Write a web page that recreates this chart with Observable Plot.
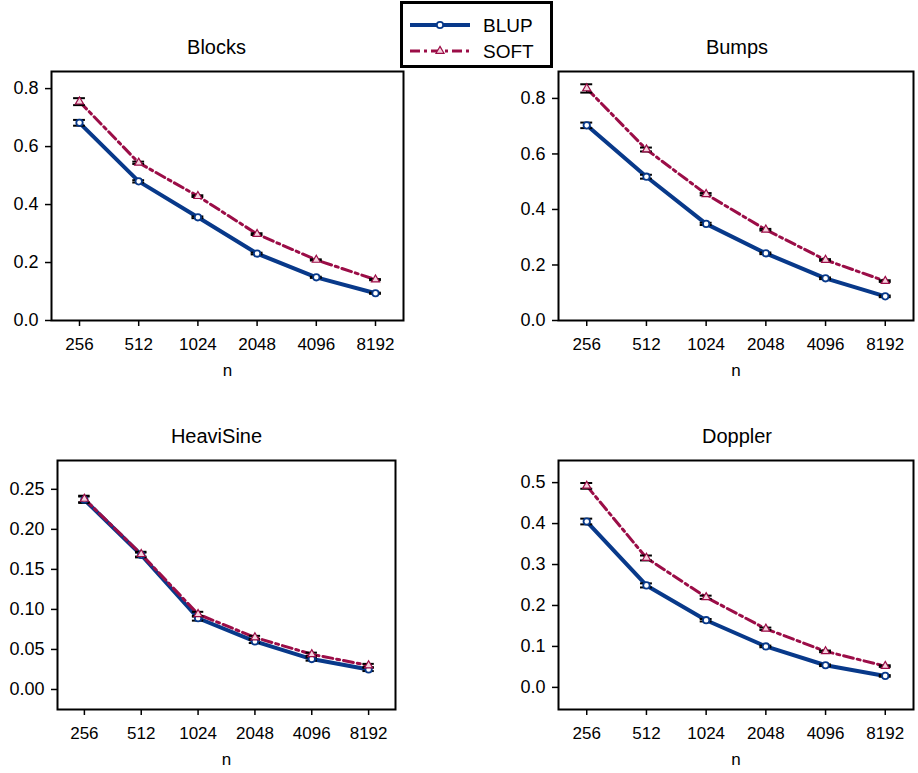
<!DOCTYPE html>
<html><head><meta charset="utf-8">
<script src="https://cdn.jsdelivr.net/npm/d3@7"></script>
<script src="https://cdn.jsdelivr.net/npm/@observablehq/plot@0.6"></script>
<style>
body{margin:0;background:#fff;}
#wrap{position:relative;width:918px;height:773px;background:#fff;font-family:"Liberation Sans",Arial,sans-serif;overflow:hidden;}
#wrap > svg{position:absolute;}
#legend{position:absolute;left:400px;top:1px;width:147px;height:61px;border:3px solid #000;background:#fff;}
</style></head><body><div id="wrap"></div>
<script>
// ---- data ----
const nLabels = ["256", "512", "1024", "2048", "4096", "8192"];
const series = ["BLUP", "SOFT"];

const blocksBLUP = [0.682, 0.480, 0.356, 0.231, 0.149, 0.094];
const blocksSOFT = [0.755, 0.544, 0.429, 0.298, 0.209, 0.141];
const blocksBLUPErr = [0.010, 0.004, 0.003, 0.003, 0.002, 0.002];
const blocksSOFTErr = [0.012, 0.004, 0.003, 0.003, 0.002, 0.002];

const bumpsBLUP = [0.703, 0.518, 0.348, 0.242, 0.152, 0.087];
const bumpsSOFT = [0.836, 0.616, 0.455, 0.327, 0.218, 0.142];
const bumpsBLUPErr = [0.010, 0.007, 0.004, 0.003, 0.003, 0.003];
const bumpsSOFTErr = [0.015, 0.007, 0.004, 0.003, 0.003, 0.003];

const heaviBLUP = [0.237, 0.168, 0.089, 0.060, 0.038, 0.025];
const heaviSOFT = [0.238, 0.169, 0.094, 0.065, 0.044, 0.030];
const heaviBLUPErr = [0.004, 0.003, 0.003, 0.002, 0.002, 0.002];
const heaviSOFTErr = [0.004, 0.003, 0.003, 0.002, 0.002, 0.002];

const dopplerBLUP = [0.405, 0.249, 0.164, 0.100, 0.054, 0.028];
const dopplerSOFT = [0.492, 0.316, 0.220, 0.143, 0.088, 0.052];
const dopplerBLUPErr = [0.007, 0.005, 0.003, 0.002, 0.002, 0.002];
const dopplerSOFTErr = [0.007, 0.006, 0.004, 0.003, 0.002, 0.002];

const blocksTicks = [0, 0.2, 0.4, 0.6, 0.8];
const bumpsTicks = [0, 0.2, 0.4, 0.6, 0.8];
const heaviTicks = [0, 0.05, 0.10, 0.15, 0.20, 0.25];
const dopplerTicks = [0, 0.1, 0.2, 0.3, 0.4, 0.5];

// ---- style ----
const BLUE = "#08398a";
const RED = "#9b0d47";
const FONT = "'Liberation Sans', Arial, Helvetica, sans-serif";
const DASH = "10,4,3,4";

const panels = [
  {title: "Blocks", blup: blocksBLUP, soft: blocksSOFT, be: blocksBLUPErr, se: blocksSOFTErr, ticks: blocksTicks, dec: 1,
   yDomain: [0, 0.859], svg: [0, 0, 459, 386], frame: [51, 71, 403, 320], tdx: -11},
  {title: "Bumps", blup: bumpsBLUP, soft: bumpsSOFT, be: bumpsBLUPErr, se: bumpsSOFTErr, ticks: bumpsTicks, dec: 1,
   yDomain: [0, 0.897], svg: [459, 0, 459, 386], frame: [558, 71, 913, 320], tdx: 1},
  {title: "HeaviSine", blup: heaviBLUP, soft: heaviSOFT, be: heaviBLUPErr, se: heaviSOFTErr, ticks: heaviTicks, dec: 2,
   yDomain: [-0.025, 0.286], svg: [0, 386, 459, 387], frame: [57, 460, 395, 709], tdx: -10},
  {title: "Doppler", blup: dopplerBLUP, soft: dopplerSOFT, be: dopplerBLUPErr, se: dopplerSOFTErr, ticks: dopplerTicks, dec: 1,
   yDomain: [-0.054, 0.554], svg: [459, 386, 459, 387], frame: [558, 460, 913, 709], tdx: 1}
];

const wrap = document.getElementById("wrap");

for (const p of panels) {
  const [sx, sy, sw, sh] = p.svg;
  const [fl, ft, fr, fb] = p.frame;
  const blup = nLabels.map((n, i) => ({i, v: p.blup[i], e: p.be[i]}));
  const soft = nLabels.map((n, i) => ({i, v: p.soft[i], e: p.se[i]}));
  const both = blup.concat(soft);
  const chart = Plot.plot({
    width: sw, height: sh,
    marginLeft: fl - sx, marginTop: ft - sy, marginRight: sx + sw - fr, marginBottom: sy + sh - fb,
    style: {fontFamily: FONT, fontSize: "16px", fontWeight: "normal", background: "transparent", color: "#000", overflow: "visible"},
    x: {type: "linear", domain: [-0.473, 5.473]},
    y: {domain: p.yDomain},
    marks: [
      Plot.axisY(p.ticks, {tickFormat: d => d.toFixed(p.dec), tickSize: 6, tickPadding: 7, fontSize: 18, strokeWidth: 1.5, label: null}),
      Plot.axisX(d3.range(nLabels.length), {tickFormat: i => nLabels[i], tickSize: 6, tickPadding: 11, fontSize: 17, strokeWidth: 1.5, label: null}),
      Plot.line(blup, {x: "i", y: "v", stroke: BLUE, strokeWidth: 4}),
      Plot.line(soft, {x: "i", y: "v", stroke: RED, strokeWidth: 3, strokeDasharray: DASH}),
      Plot.ruleX(both, {x: "i", y1: d => d.v - d.e, y2: d => d.v + d.e, stroke: "#000", strokeWidth: 1.5}),
      Plot.ruleY(both, {y: d => d.v + d.e, x1: d => d.i - 0.1, x2: d => d.i + 0.1, stroke: "#000", strokeWidth: 2}),
      Plot.ruleY(both, {y: d => d.v - d.e, x1: d => d.i - 0.1, x2: d => d.i + 0.1, stroke: "#000", strokeWidth: 2}),
      Plot.dot(blup, {x: "i", y: "v", r: 3.2, fill: "#fff", stroke: BLUE, strokeWidth: 1.8}),
      Plot.dot(soft, {x: "i", y: "v", r: 3, symbol: "triangle", fill: "#f4d3de", stroke: RED, strokeWidth: 1.2}),
      Plot.frame({stroke: "#000", strokeWidth: 2}),
      Plot.text([p.title], {frameAnchor: "top", lineAnchor: "middle", dy: -24, dx: p.tdx, fontSize: 20, fontWeight: "normal", fill: "#000"}),
      Plot.text(["n"], {frameAnchor: "bottom", lineAnchor: "middle", dy: 50, fontSize: 17, fill: "#000"})
    ]
  });
  chart.style.left = sx + "px";
  chart.style.top = sy + "px";
  wrap.appendChild(chart);
}

// ---- legend ----
const legend = document.createElement("div");
legend.id = "legend";
legend.innerHTML = `
<svg width="147" height="61" style="position:absolute;left:0;top:0;font-family:${FONT}">
  <line x1="7" x2="67" y1="21" y2="21" stroke="${BLUE}" stroke-width="4"/>
  <circle cx="37" cy="21" r="3.2" fill="#fff" stroke="${BLUE}" stroke-width="1.8"/>
  <line x1="7" x2="67" y1="47" y2="47" stroke="${RED}" stroke-width="3" stroke-dasharray="${DASH}"/>
  <path transform="translate(37,47)" d="${d3.symbol(d3.symbolTriangle, 28)()}" fill="#f4d3de" stroke="${RED}" stroke-width="1.2"/>
  <text x="80" y="21" dy="0.35em" font-size="19" fill="#000">${series[0]}</text>
  <text x="80" y="47" dy="0.35em" font-size="19" fill="#000">${series[1]}</text>
</svg>`;
wrap.appendChild(legend);
</script>
</body></html>
